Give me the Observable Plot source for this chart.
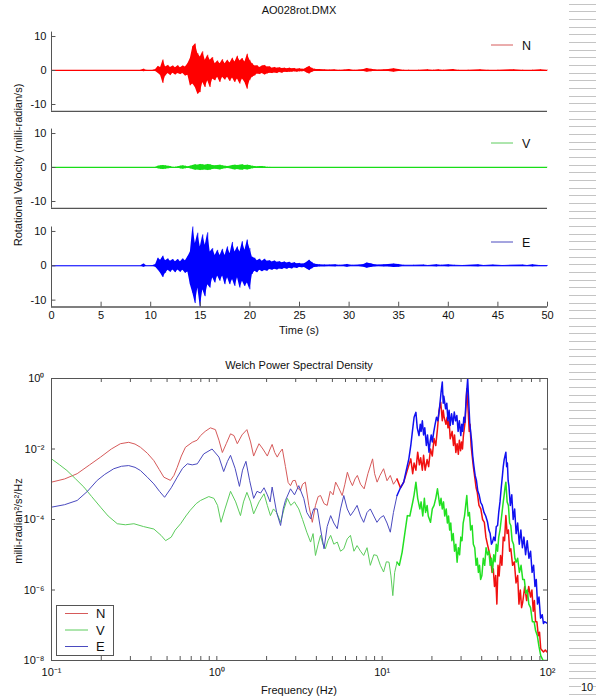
<!DOCTYPE html>
<html><head><meta charset="utf-8">
<script src="https://cdn.jsdelivr.net/npm/d3@7"></script>
<script src="https://cdn.jsdelivr.net/npm/@observablehq/plot@0.6"></script>
<style>
body{margin:0;background:#fff;font-family:"Liberation Sans",Arial,sans-serif;}
#root{position:relative;width:596px;height:700px;overflow:hidden;background:#fff;color:#111}
.abs{position:absolute}
.ctr{text-align:center;font-size:11px;line-height:14px;white-space:nowrap}
svg{display:block}
</style></head><body><div id="root"></div>
<script>
// ---------- DATA ----------
const chartTitle = "AO028rot.DMX";
const psdTitle = "Welch Power Spectral Density";
const yLabelTop = "Rotational Velocity (milli-radian/s)";
const xLabelTop = "Time (s)";
const yLabelPsd = "milli-radian²/s²/Hz";
const xLabelPsd = "Frequency (Hz)";
const components = ["N", "V", "E"];
const timeTicks = [0, 5, 10, 15, 20, 25, 30, 35, 40, 45, 50];
const velTicks = [-10, 0, 10];
const freqMajor = [0.1, 1, 10, 100];
const freqMinor = [0.2,0.3,0.4,0.5,0.6,0.7,0.8,0.9,2,3,4,5,6,7,8,9,20,30,40,50,60,70,80,90];
const psdMajor = [1e-8, 1e-6, 1e-4, 1e-2, 1];

// seismograms: [time s, upper envelope, lower envelope] (milli-radian/s)
const nSeis = [
[0,0.05,-0.05],[9.0,0.05,-0.05],[9.3,0.4,-0.35],[9.6,0.05,-0.05],[10.25,0.1,-0.1],[10.5,0.3,-0.3],
[10.75,1.2,-0.8],[11,0.9,-1.5],[11.25,3.1,-3.8],[11.5,1.0,-1.6],[11.75,1.5,-0.9],[12,0.9,-1.5],[12.25,1.3,-0.8],[12.5,0.8,-1.3],[12.75,1.4,-0.9],[13,0.8,-1.2],[13.25,1.3,-0.9],[13.5,1.0,-1.6],[13.75,2.0,-1.4],
[14,3.5,-4.5],[14.25,7.0,-4.0],[14.5,7.8,-5.0],[14.75,5.0,-7.0],[15,4.0,-6.5],[15.25,5.5,-3.5],[15.5,3.0,-5.0],[15.75,4.5,-3.0],[16,3.0,-5.0],[16.25,3.8,-2.5],[16.5,2.0,-3.0],[16.75,2.8,-2.0],[17,2.0,-3.5],[17.25,3.2,-2.0],[17.5,2.0,-2.8],[17.75,3.0,-2.0],[18,2.2,-3.2],[18.25,3.6,-2.2],[18.5,2.5,-3.5],[18.75,4.2,-2.5],[19,2.8,-4.0],[19.25,3.5,-2.5],[19.5,2.5,-3.5],[19.75,4.8,-5.5],[20,3.0,-3.0],
[20.25,2.0,-2.0],[20.5,1.3,-1.6],[20.75,1.4,-1.0],[21,0.9,-1.2],[21.25,1.3,-0.9],[21.5,1.5,-1.3],[21.75,1.0,-1.0],[22,1.1,-0.8],[22.25,0.7,-0.9],[22.5,0.9,-0.7],[22.75,0.7,-0.9],[23,0.8,-0.6],[23.25,0.6,-0.8],[23.5,0.7,-0.5],[23.75,0.5,-0.6],[24,0.7,-0.5],[24.25,0.5,-0.5],[24.5,0.6,-0.4],[24.75,0.4,-0.5],[25,0.5,-0.4],[25.25,0.4,-0.4],[25.5,0.4,-0.3],[25.75,0.8,-0.7],[26,1.2,-1.0],[26.25,0.7,-0.6],[26.5,0.4,-0.3],[26.75,0.3,-0.3],[27,0.3,-0.3],
[27.5,0.2,-0.2],[28,0.15,-0.15],[28.5,0.2,-0.2],[29,0.1,-0.1],[29.5,0.15,-0.15],[30,0.3,-0.3],[30.5,0.1,-0.1],[31,0.15,-0.15],[31.5,0.3,-0.3],[31.8,0.6,-0.5],[32.2,0.4,-0.4],[32.6,0.2,-0.2],[33,0.15,-0.15],[33.5,0.2,-0.2],[34,0.3,-0.3],[34.5,0.55,-0.5],[35,0.3,-0.3],[35.5,0.1,-0.1],[36,0.1,-0.1],[37,0.1,-0.1],[37.9,0.25,-0.2],[38.5,0.1,-0.1],[39,0.2,-0.2],[39.5,0.1,-0.1],[40.5,0.3,-0.25],[41,0.1,-0.1],[42,0.1,-0.1],[43.2,0.25,-0.2],[44,0.1,-0.1],[45,0.1,-0.1],[46.6,0.25,-0.2],[47.5,0.1,-0.1],[48.5,0.1,-0.1],[49.3,0.2,-0.2],[50,0.1,-0.1]
];
// V: [time s, amplitude]
const vSeis = [
[0,0.04],[10.5,0.05],[10.75,0.4],[11,0.5],[11.25,0.6],[11.5,0.5],[11.75,0.4],[12,0.3],[12.25,0.1],[12.5,0.1],[12.75,0.2],[13,0.4],[13.25,0.5],[13.5,0.4],[13.75,0.2],[14,0.4],[14.25,0.6],[14.5,0.8],[14.75,0.7],[15,0.9],[15.25,0.8],[15.5,0.7],[15.75,0.9],[16,0.8],[16.25,0.6],[16.5,0.5],[16.75,0.6],[17,0.7],[17.25,0.5],[17.5,0.4],[17.75,0.3],[18,0.4],[18.25,0.6],[18.5,0.7],[18.75,0.6],[19,0.7],[19.25,0.8],[19.5,0.6],[19.75,0.7],[20,0.6],[20.25,0.4],[20.5,0.3],[20.75,0.2],[21,0.3],[21.25,0.3],[21.5,0.2],[21.75,0.1],[22,0.05],[50,0.04]
];
const eSeis = [
[0,0.05,-0.05],[9.0,0.05,-0.05],[9.3,0.5,-0.4],[9.6,0.05,-0.05],[10.25,0.1,-0.1],[10.5,0.4,-0.4],
[10.75,2.2,-1.2],[11,1.6,-2.2],[11.25,2.8,-3.4],[11.5,1.5,-2.2],[11.75,2.0,-1.3],[12,1.3,-1.9],[12.25,1.8,-1.2],[12.5,1.2,-2.0],[12.75,1.8,-1.2],[13,1.2,-1.9],[13.25,2.0,-1.3],[13.5,1.5,-2.2],[13.75,2.6,-1.8],
[14,4.0,-5.5],[14.25,11.3,-8.0],[14.5,6.5,-11.0],[14.75,9.5,-6.5],[15,5.5,-12],[15.25,9.0,-7.0],[15.5,6.0,-9.0],[15.75,9.6,-5.5],[16,4.0,-6.5],[16.25,5.0,-3.5],[16.5,3.0,-5.0],[16.75,4.5,-3.0],[17,3.0,-4.5],[17.25,4.8,-3.0],[17.5,3.0,-5.5],[17.75,5.5,-3.5],[18,3.5,-5.5],[18.25,6.8,-4.0],[18.5,4.0,-6.0],[18.75,5.5,-3.5],[19,4.0,-6.5],[19.25,7.0,-4.5],[19.5,4.5,-6.0],[19.75,7.5,-5.0],[20,5.0,-7.0],
[20.25,2.5,-2.5],[20.5,2.2,-1.6],[20.75,1.5,-2.0],[21,1.9,-1.3],[21.25,1.3,-1.7],[21.5,1.9,-1.4],[21.75,1.3,-1.6],[22,1.5,-1.1],[22.25,1.1,-1.3],[22.5,1.4,-1.0],[22.75,1.0,-1.2],[23,1.2,-0.9],[23.25,0.9,-1.1],[23.5,1.1,-0.8],[23.75,0.8,-1.0],[24,1.0,-0.7],[24.25,0.7,-0.9],[24.5,0.9,-0.6],[24.75,0.6,-0.8],[25,0.7,-0.5],[25.25,0.5,-0.6],[25.5,0.6,-0.5],[25.75,1.0,-0.9],[26,1.6,-1.4],[26.25,1.0,-0.9],[26.5,0.5,-0.5],[26.75,0.4,-0.4],[27,0.3,-0.3],
[27.5,0.25,-0.25],[28,0.2,-0.2],[28.6,0.3,-0.3],[29,0.15,-0.15],[29.5,0.2,-0.2],[29.8,0.4,-0.4],[30.3,0.15,-0.15],[31,0.2,-0.2],[31.5,0.4,-0.4],[31.8,0.8,-0.7],[32.2,0.6,-0.5],[32.6,0.3,-0.3],[33,0.2,-0.2],[33.5,0.3,-0.3],[34,0.4,-0.3],[34.5,0.5,-0.5],[35,0.4,-0.4],[35.5,0.15,-0.15],[36.5,0.15,-0.15],[37.5,0.2,-0.2],[38,0.1,-0.1],[38.8,0.3,-0.3],[39.3,0.15,-0.15],[40,0.3,-0.3],[40.6,0.15,-0.15],[41.5,0.1,-0.1],[43,0.3,-0.3],[43.6,0.1,-0.1],[44.5,0.2,-0.2],[45.5,0.1,-0.1],[47.5,0.2,-0.2],[48,0.1,-0.1],[48.5,0.3,-0.3],[49.2,0.1,-0.1],[50,0.1,-0.1]
];

// PSD: [frequency Hz, log10 PSD]
const nPsd = [
[0.1,-2.94],[0.12,-2.85],[0.143,-2.70],[0.17,-2.45],[0.198,-2.23],[0.23,-2.0],[0.261,-1.85],[0.293,-1.81],[0.32,-1.86],[0.345,-1.95],[0.38,-2.12],[0.416,-2.33],[0.448,-2.58],[0.478,-2.80],[0.524,-2.89],[0.55,-2.75],[0.576,-2.52],[0.61,-2.2],[0.646,-1.95],[0.71,-1.81],[0.76,-1.75],[0.797,-1.62],[0.85,-1.5],[0.914,-1.40],[0.98,-1.45],
[1.03,-1.75],[1.08,-2.10],[1.14,-1.85],[1.21,-1.57],[1.27,-1.62],[1.33,-1.85],[1.42,-1.6],[1.52,-1.45],[1.6,-1.8],[1.67,-2.20],[1.74,-2.0],[1.80,-1.85],[1.9,-2.0],[2.02,-2.20],[2.1,-2.0],[2.16,-1.87],[2.24,-2.1],[2.32,-2.23],[2.4,-2.1],[2.49,-2.0],[2.6,-2.5],[2.7,-2.95],[2.79,-3.04],[2.88,-2.9],[2.98,-2.89],[3.08,-3.1],[3.20,-3.18],[3.3,-3.0],[3.43,-2.94],[3.6,-3.6],[3.78,-4.08],[3.95,-3.6],[4.1,-3.35],[4.24,-3.32],[4.45,-3.55],[4.65,-3.60],[4.85,-3.2],[5.05,-3.3],[5.23,-2.94],[5.45,-3.1],[5.73,-3.32],[5.95,-3.0],[6.16,-2.66],[6.4,-2.9],[6.61,-3.04],[6.85,-2.85],[7.08,-2.75],[7.4,-3.0],[7.78,-3.13],[8.2,-2.7],[8.75,-2.28],[9.0,-2.7],[9.32,-2.94],[9.7,-2.75],
[10.2,-2.56],[10.7,-2.9],[11.2,-2.75],[11.7,-3.0],[12.3,-2.85],[12.9,-3.1],[13.5,-2.94],[14.2,-2.6],[14.9,-2.28],[15.3,-2.7],[15.6,-2.4],[16.0,-2.6],[16.4,-2.09],[16.8,-2.45],[17.1,-2.25],[17.5,-2.6],[17.8,-2.18],[18.2,-2.6],[18.7,-2.3],[19.1,-2.5],[19.6,-2.0],[20.1,-2.2],[20.6,-1.7],[21.1,-1.9],[21.6,-1.43],[22.1,-0.9],[22.6,-0.67],[23.1,-1.2],[23.4,-0.9],[23.7,-1.1],[24.3,-1.3],[24.7,-1.1],[25.0,-1.4],[25.4,-1.2],[25.8,-1.71],[26.5,-1.5],[27.0,-1.9],[27.4,-1.6],[27.9,-2.1],[28.4,-1.85],[28.9,-2.15],[29.3,-1.75],[29.8,-2.05],[30.2,-1.8],[30.6,-2.0],[31.0,-1.62],[31.8,-1.2],[32.5,-0.29],[33.2,-1.0],[33.6,-1.5],[34.0,-1.3],[34.5,-1.9],[35.0,-2.18],[35.6,-2.5],[36.3,-2.8],[37.0,-3.1],[37.6,-3.23],[38.5,-3.6],[39.5,-3.7],[40.5,-4.0],[41.5,-4.08],[42.4,-4.5],[43.3,-4.7],[44.3,-4.9],[45.3,-5.11],[46.2,-5.5],[47.0,-5.4],[47.8,-5.9],[48.6,-5.59],[49.4,-6.4],[50.2,-5.3],[51.0,-5.6],[52.0,-5.02],[53.0,-5.3],[54.0,-4.5],[55.0,-4.6],[56.0,-3.89],[57.0,-4.4],[58.0,-4.3],[59.0,-4.9],[60.0,-4.83],[61.5,-5.3],[63.0,-5.2],[64.5,-5.8],[66.0,-5.59],[67.2,-6.4],[68.5,-6.0],[69.7,-6.5],[70.8,-6.35],[72.8,-5.9],[74.8,-6.3],[77.0,-5.9],[79.0,-6.2],[80.5,-6.0],[82.0,-6.6],[83.3,-6.3],[84.7,-6.9],[86.3,-6.9],[88.0,-7.3],[89.5,-7.2],[91.0,-7.67],[94.6,-7.76],[97.0,-7.7],[100,-7.77]
];
const vPsd = [
[0.1,-2.28],[0.112,-2.45],[0.124,-2.61],[0.14,-2.85],[0.157,-3.08],[0.175,-3.35],[0.198,-3.65],[0.22,-3.9],[0.25,-4.12],[0.28,-4.15],[0.315,-4.12],[0.36,-4.2],[0.416,-4.27],[0.46,-4.45],[0.49,-4.6],[0.53,-4.5],[0.56,-4.3],[0.604,-4.12],[0.65,-3.9],[0.69,-3.74],[0.75,-3.55],[0.797,-3.46],[0.894,-3.35],[0.96,-3.4],
[1.01,-3.6],[1.06,-4.08],[1.12,-3.7],[1.21,-3.2],[1.3,-3.5],[1.39,-3.89],[1.45,-3.5],[1.52,-3.23],[1.6,-3.5],[1.67,-3.84],[1.8,-3.5],[1.93,-3.27],[2.02,-3.6],[2.11,-3.89],[2.2,-3.7],[2.3,-3.8],[2.43,-4.08],[2.55,-3.7],[2.67,-3.4],[2.8,-3.6],[2.95,-3.5],[3.13,-3.70],[3.3,-4.0],[3.5,-4.36],[3.69,-4.64],[3.82,-4.4],[3.95,-5.02],[4.1,-4.7],[4.24,-4.45],[4.38,-4.7],[4.53,-4.83],[4.7,-4.6],[4.88,-4.45],[5.1,-4.7],[5.35,-4.64],[5.6,-4.9],[5.86,-4.83],[6.15,-4.55],[6.43,-4.45],[6.75,-4.9],[7.05,-4.74],[7.4,-4.9],[7.73,-5.02],[8.1,-4.8],[8.48,-5.30],[8.9,-5.0],[9.3,-5.02],[9.75,-5.3],
[10.2,-5.49],[10.6,-5.2],[11.0,-5.21],[11.3,-5.6],[11.6,-6.16],[11.9,-5.5],[12.3,-5.21],[12.7,-5.3],[13.2,-4.93],[13.7,-4.4],[14.2,-3.89],[14.7,-3.9],[15.3,-3.51],[15.6,-3.3],[16.0,-2.94],[16.4,-3.4],[16.9,-3.70],[17.2,-3.5],[17.6,-3.9],[18.0,-3.4],[18.3,-3.8],[18.7,-3.6],[19.0,-3.9],[19.6,-4.08],[20.1,-3.7],[20.6,-3.6],[21.1,-3.4],[21.6,-3.13],[22.3,-3.6],[22.7,-3.4],[23.1,-3.7],[23.5,-3.5],[23.9,-3.9],[24.4,-3.7],[24.8,-4.1],[25.2,-3.9],[25.6,-4.3],[26.0,-4.1],[26.4,-4.6],[26.9,-4.4],[27.4,-4.9],[27.9,-4.7],[28.4,-5.21],[28.9,-4.8],[29.4,-5.0],[29.9,-4.5],[30.4,-4.6],[30.9,-4.1],[31.5,-3.9],[32.0,-3.6],[32.5,-3.32],[33.1,-3.9],[33.7,-3.8],[34.3,-4.3],[35.0,-4.17],[35.6,-4.7],[36.3,-4.8],[37.0,-5.3],[37.6,-5.1],[38.2,-5.5],[38.8,-5.3],[39.4,-5.7],[40.1,-5.59],[40.9,-5.1],[41.7,-5.3],[42.5,-4.8],[43.4,-5.0],[44.2,-4.9],[45.0,-5.3],[45.8,-5.1],[46.5,-5.50],[47.3,-5.0],[48.2,-5.2],[49.0,-4.7],[49.9,-4.9],[50.7,-4.5],[51.6,-4.3],[52.5,-4.0],[53.4,-3.70],[54.0,-3.5],[54.7,-3.3],[55.3,-3.1],[56.0,-2.94],[57.0,-3.5],[58.0,-3.6],[59.0,-4.1],[60.0,-4.17],[61.1,-4.6],[62.3,-4.7],[63.5,-5.1],[64.6,-5.21],[66.0,-5.1],[67.6,-5.5],[69.2,-5.3],[70.8,-5.7],[72.4,-5.7],[74,-6.1],[75.5,-6.0],[77.1,-6.4],[79,-6.5],[81,-6.9],[83,-6.9],[84.7,-7.15],[86.8,-7.3],[88.8,-7.6],[91,-7.86],[94,-8.0],[100,-8.0]
];
const ePsd = [
[0.1,-3.65],[0.12,-3.58],[0.143,-3.46],[0.165,-3.2],[0.189,-2.89],[0.21,-2.72],[0.238,-2.56],[0.265,-2.49],[0.293,-2.47],[0.32,-2.52],[0.345,-2.61],[0.38,-2.8],[0.416,-2.99],[0.45,-3.2],[0.483,-3.37],[0.53,-3.1],[0.576,-2.80],[0.62,-2.55],[0.663,-2.42],[0.71,-2.45],[0.762,-2.42],[0.833,-2.14],[0.936,-2.0],
[1.03,-2.23],[1.10,-2.64],[1.16,-2.35],[1.21,-2.18],[1.29,-2.55],[1.37,-3.06],[1.43,-2.6],[1.50,-2.35],[1.58,-2.9],[1.67,-3.4],[1.75,-3.2],[1.84,-3.25],[1.93,-3.1],[2.02,-3.3],[2.1,-3.5],[2.16,-3.08],[2.3,-3.8],[2.43,-4.17],[2.52,-3.7],[2.60,-3.46],[2.79,-3.13],[2.95,-3.3],[3.13,-3.04],[3.36,-3.41],[3.5,-3.8],[3.69,-3.98],[3.85,-3.7],[4.05,-3.70],[4.25,-4.3],[4.45,-4.83],[4.65,-4.2],[4.88,-3.89],[5.1,-4.1],[5.35,-4.26],[5.6,-3.7],[5.86,-3.32],[6.15,-3.7],[6.43,-3.89],[6.75,-3.75],[7.05,-3.60],[7.4,-3.9],[7.73,-4.08],[8.1,-3.8],[8.48,-3.70],[8.9,-3.9],[9.30,-4.08],[9.75,-3.95],
[10.2,-3.89],[10.7,-4.1],[11.2,-4.36],[11.7,-3.8],[12.3,-3.32],[12.9,-3.1],[13.5,-2.94],[14.0,-2.6],[14.5,-2.28],[14.9,-1.9],[15.3,-1.43],[15.6,-1.1],[16.0,-0.96],[16.3,-1.4],[16.7,-1.62],[17.0,-1.3],[17.2,-1.5],[17.5,-1.2],[17.8,-1.6],[18.1,-1.4],[18.5,-1.9],[18.8,-1.6],[19.2,-2.09],[19.5,-1.8],[19.8,-1.6],[20.1,-1.8],[20.5,-1.52],[20.9,-1.3],[21.3,-1.1],[21.7,-1.2],[22.2,-0.86],[22.7,-0.4],[23.1,-0.10],[23.4,-0.7],[23.6,-0.5],[24.2,-0.86],[24.6,-0.7],[25.0,-1.2],[25.4,-0.9],[25.8,-1.33],[26.3,-1.0],[26.8,-1.3],[27.3,-0.95],[27.8,-1.2],[28.3,-1.05],[28.8,-1.5],[29.3,-1.2],[29.9,-1.62],[30.3,-1.3],[30.7,-1.5],[31.2,-1.1],[31.6,-1.25],[32.3,-0.5],[32.9,-0.01],[33.5,-0.8],[33.9,-1.3],[34.3,-1.52],[34.8,-1.8],[35.3,-2.2],[35.9,-2.5],[36.5,-2.75],[37.2,-2.9],[37.9,-3.2],[38.6,-3.3],[39.4,-3.51],[40.3,-3.6],[41.3,-3.8],[42.3,-3.9],[43.4,-4.08],[44.2,-4.3],[45.0,-4.4],[45.8,-4.7],[46.5,-4.64],[47.3,-4.5],[48.2,-4.6],[49.0,-4.2],[49.9,-4.17],[50.7,-3.8],[51.6,-3.5],[52.5,-3.1],[53.4,-2.75],[54.0,-2.5],[54.7,-2.3],[55.3,-2.2],[56.0,-2.09],[56.6,-2.5],[57.2,-2.4],[57.8,-2.9],[58.4,-3.04],[59.6,-3.6],[60.8,-3.3],[62,-4.0],[63.3,-3.7],[64.6,-4.4],[66.0,-4.1],[67.5,-4.7],[69.0,-4.3],[70.5,-4.8],[72.0,-4.5],[73.7,-5.0],[75.4,-4.6],[77.2,-5.1],[79.0,-4.9],[80.7,-5.5],[82.4,-5.3],[84,-5.9],[85.5,-5.7],[87,-6.4],[88.8,-6.2],[90.8,-6.8],[92.9,-6.7],[94.5,-6.95],[96,-6.9],[100,-6.95]
];

// ---------- STYLE ----------
const seisColors = {N: "#ff0000", V: "#18dd18", E: "#0000ff"};
const psdPale = {N: "#d65a5a", V: "#5ccc5c", E: "#4a4abf"};   // thin low-frequency trace
const psdDense = {N: "#f01010", V: "#22e022", E: "#1010f0"};  // dense high-frequency trace
const axisCol = "#555";
const FONT = "'Liberation Sans', Arial, sans-serif";
const root = document.getElementById("root");

function place(el, top, left) {
  el.style.position = "absolute"; el.style.top = top + "px"; el.style.left = (left || 0) + "px";
  root.appendChild(el); return el;
}
function label(text, cx, cy, opts = {}) {
  const d = document.createElement("div");
  d.className = "ctr abs"; d.textContent = text;
  const w = opts.w || 300;
  d.style.width = w + "px"; d.style.left = (cx - w / 2) + "px"; d.style.top = (cy - 7) + "px";
  if (opts.size) d.style.fontSize = opts.size + "px";
  if (opts.rotate) d.style.transform = "rotate(-90deg)";
  root.appendChild(d); return d;
}

const supMap = {"-": "⁻", "0": "⁰", "1": "¹", "2": "²", "3": "³", "4": "⁴", "5": "⁵", "6": "⁶", "7": "⁷", "8": "⁸", "9": "⁹"};
const sup = v => "10" + String(Math.round(Math.log10(v))).split("").map(c => supMap[c]).join("");

function seisPanel(kind, height, mt, mb, domain, showX) {
  const color = seisColors[kind];
  const rows = kind === "V"
    ? vSeis.map(d => ({t: d[0], hi: d[1], lo: -d[1]}))
    : (kind === "N" ? nSeis : eSeis).map(d => ({t: d[0], hi: d[1], lo: d[2]}));
  const marks = [
    Plot.ruleY([0], {x1: 0, x2: 50, stroke: color, strokeWidth: 1}),
    Plot.areaY(rows, {x: "t", y1: "lo", y2: "hi", fill: color, curve: "linear"}),
    Plot.ruleX(rows, {x: "t", y1: "lo", y2: "hi", stroke: color, strokeWidth: 0.8}),
    Plot.ruleX([0], {y1: domain[0], y2: domain[1], stroke: axisCol}),
    Plot.ruleY([domain[0]], {x1: 0, x2: 50, stroke: axisCol, strokeWidth: 1.3}),
    Plot.ruleY(velTicks, {x1: 0, x2: 0.45, stroke: axisCol})
  ];
  if (showX) marks.push(Plot.ruleX(timeTicks, {y1: domain[0], y2: domain[0] + 1.4, stroke: axisCol}));
  return Plot.plot({
    width: 596, height, marginLeft: 51, marginRight: 49, marginTop: mt, marginBottom: mb,
    style: {fontFamily: FONT, fontSize: "11px", color: "#111", background: "transparent", overflow: "visible"},
    x: {domain: [0, 50], axis: showX ? "bottom" : null, ticks: timeTicks, tickSize: 0, tickPadding: 4, label: null, tickFormat: d => String(d)},
    y: {domain, ticks: velTicks, tickSize: 0, tickPadding: 5, label: null, tickFormat: d => String(d)},
    marks
  });
}

// ---------- TOP: seismograms ----------
label(chartTitle, 299, 10, {w: 300});
place(seisPanel("N", 115, 31.6, 4.2, [-12, 11.3], false), 0);
place(seisPanel("V", 97, 13.6, 4.2, [-12, 11.3], false), 115);
place(seisPanel("E", 128, 14.5, 33.5, [-12, 11.3], true), 212);
label(xLabelTop, 299, 330, {w: 200});
label(yLabelTop, 18, 165, {w: 260, rotate: true});

// in-panel legends
[["N", 44.5], ["V", 143], ["E", 241.5]].forEach(([k, y]) => {
  const s = d3.create("svg").attr("width", 50).attr("height", 16).style("overflow", "visible");
  s.append("line").attr("x1", 0).attr("x2", 22).attr("y1", 8).attr("y2", 8)
    .attr("stroke", psdPale[k]).attr("stroke-width", 1);
  s.append("text").attr("x", 31).attr("y", 8).attr("dy", "0.36em").text(k)
    .attr("font-family", FONT).attr("font-size", 12.5).attr("fill", "#111");
  place(s.node(), y - 8, 491);
});

// ---------- BOTTOM: PSD ----------
label(psdTitle, 299, 365, {w: 300});
const SPLIT = 12.3; // Hz: where the traces become dense
const psdRows = arr => arr.map(d => ({f: d[0], p: Math.pow(10, d[1])}));
const lowPart = arr => psdRows(arr).filter(d => d.f <= SPLIT);
const highPart = arr => psdRows(arr).filter(d => d.f >= SPLIT);
const tickLenX = Math.pow(10, 4 / 35.25);   // 4px in y (log) units
const tickLenY = Math.pow(10, 4 / 165.3);   // 4px in x (log) units
const series = [["N", nPsd], ["V", vPsd], ["E", ePsd]];
const psdMarks = [];
series.forEach(([k, arr]) => {
  psdMarks.push(Plot.line(lowPart(arr), {x: "f", y: "p", stroke: psdPale[k], strokeWidth: 1, clip: true}));
  psdMarks.push(Plot.line(highPart(arr), {x: "f", y: "p", stroke: psdDense[k], strokeWidth: 1.5, clip: true}));
});
const psdPlot = Plot.plot({
  width: 596, height: 360, marginLeft: 51, marginRight: 49, marginTop: 38, marginBottom: 40,
  style: {fontFamily: FONT, fontSize: "11px", color: "#111", background: "transparent", overflow: "visible"},
  x: {type: "log", domain: [0.1, 100], ticks: freqMajor, tickFormat: sup, tickSize: 0, tickPadding: 8, label: null},
  y: {type: "log", domain: [1e-8, 1], ticks: psdMajor, tickFormat: sup, tickSize: 0, tickPadding: 7, label: null},
  marks: [
    ...psdMarks,
    Plot.frame({stroke: axisCol}),
    Plot.ruleX(freqMajor.concat(freqMinor), {y1: 1e-8, y2: 1e-8 * tickLenX, stroke: axisCol}),
    Plot.ruleX(freqMajor.concat(freqMinor), {y1: 1, y2: 1 / tickLenX, stroke: axisCol}),
    Plot.ruleY(psdMajor, {x1: 0.1, x2: 0.1 * tickLenY, stroke: axisCol}),
    Plot.ruleY(psdMajor, {x1: 100, x2: 100 / tickLenY, stroke: axisCol})
  ]
});
place(psdPlot, 340);
label(xLabelPsd, 299, 690, {w: 200});
label(yLabelPsd, 18, 521, {w: 200, rotate: true});

// PSD legend box
{
  const s = d3.create("svg").attr("width", 58).attr("height", 51);
  s.append("rect").attr("x", 0.5).attr("y", 0.5).attr("width", 57).attr("height", 50)
    .attr("fill", "#fff").attr("stroke", axisCol);
  components.forEach((k, i) => {
    const y = 8.5 + i * 16.5;
    s.append("line").attr("x1", 9).attr("x2", 32).attr("y1", y).attr("y2", y)
      .attr("stroke", psdPale[k]).attr("stroke-width", 1);
    s.append("text").attr("x", 40).attr("y", y).attr("dy", "0.36em").text(k)
      .attr("font-family", FONT).attr("font-size", 13).attr("fill", "#111");
  });
  place(s.node(), 604.5, 56);
}

// page edge stripe (decorative)
{
  const s = d3.create("svg").attr("width", 28).attr("height", 700);
  for (let y = 3.5; y < 700; y += 7.67) {
    s.append("line").attr("x1", 0).attr("x2", 28).attr("y1", Math.round(y) + 0.5).attr("y2", Math.round(y) + 0.5)
      .attr("stroke", "#c4c4c4").attr("stroke-width", 1);
  }
  place(s.node(), 0, 569);
  const t = document.createElement("div");
  t.textContent = "10"; t.style.fontSize = "11px"; t.style.background = "#fff"; t.style.lineHeight = "12px";
  place(t, 681, 581);
}
</script></body></html>
